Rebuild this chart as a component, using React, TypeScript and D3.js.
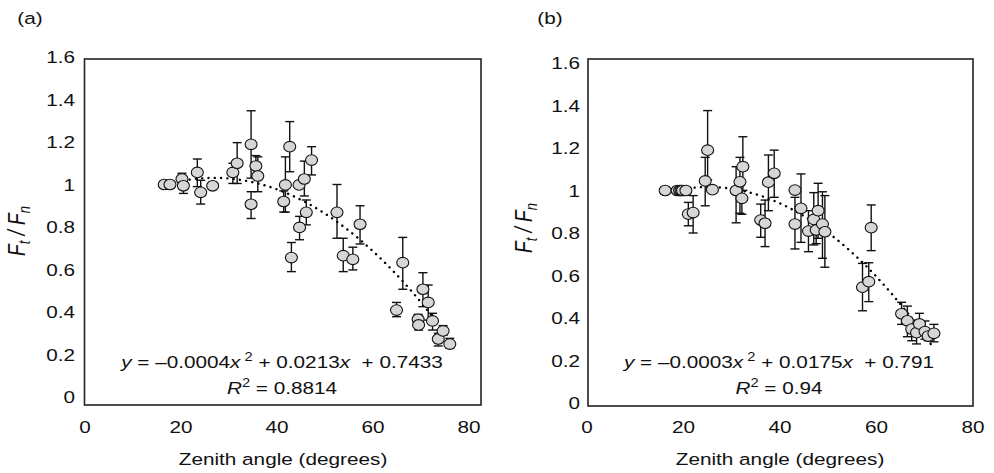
import React, { useEffect } from 'react';
import * as d3 from 'd3';

// ---------- data ----------
const xTicks = [0, 20, 40, 60, 80];
const yTicks = [0, 0.2, 0.4, 0.6, 0.8, 1, 1.2, 1.4, 1.6];
const yTickLabels = ['0', '0.2', '0.4', '0.6', '0.8', '1', '1.2', '1.4', '1.6'];

// panel (a)
const aAngle = [16.5, 17.7, 20.2, 20.5, 23.4, 24.1, 26.6, 30.8, 31.7, 34.6, 34.6, 35.6, 36.0, 41.4, 41.75, 42.65, 43.0, 44.6, 44.7, 45.7, 46.1, 47.2, 52.5, 53.8, 55.8, 57.3, 64.9, 66.2, 69.4, 69.5, 70.4, 71.5, 72.4, 73.6, 74.6, 76.0];
const aRatio = [1.0, 1.0, 1.026, 0.994, 1.057, 0.963, 0.994, 1.057, 1.10, 1.189, 0.907, 1.087, 1.04, 0.92, 0.998, 1.178, 0.656, 0.998, 0.798, 1.026, 0.869, 1.115, 0.869, 0.665, 0.648, 0.813, 0.409, 0.632, 0.366, 0.339, 0.507, 0.445, 0.358, 0.273, 0.311, 0.249];
const aLow = [null, null, 1.0, 0.958, 0.99, 0.908, null, 1.005, 1.005, 1.03, 0.84, 1.04, 0.966, 0.87, 0.87, 1.06, 0.59, null, 0.74, 0.946, 0.81, 1.045, 0.747, 0.59, 0.598, 0.72, 0.378, 0.507, 0.34, 0.315, 0.425, 0.362, 0.315, 0.24, 0.29, 0.23];
const aHigh = [null, null, 1.053, 1.03, 1.12, 1.02, null, 1.1, 1.197, 1.347, 0.966, 1.136, 1.13, 0.97, 1.13, 1.296, 0.727, null, 0.85, 1.11, 0.927, 1.178, 1.0, 0.747, 0.705, 0.9, 0.445, 0.751, 0.389, 0.36, 0.585, 0.527, 0.394, 0.3, 0.336, 0.276];
const aTrend = [-0.0003155, 0.01699, 0.8023];
const aTrendRange = [20.5, 73.2];
const aEquation = ['–0.0004', '0.0213', '0.7433'];
const aR2 = '0.8814';

// panel (b)
const bAngle = [16.2, 18.7, 19.2, 19.5, 19.8, 20.5, 21.0, 22.0, 24.5, 25.0, 26.0, 30.9, 31.7, 32.1, 32.3, 36.0, 36.9, 37.6, 38.8, 43.1, 43.1, 44.35, 45.9, 47.0, 47.5, 47.9, 48.8, 49.3, 57.1, 58.4, 58.9, 65.2, 66.4, 67.3, 68.3, 68.9, 70.05, 70.7, 71.9];
const bRatio = [1.0, 1.0, 1.0, 1.0, 1.0, 1.0, 0.889, 0.896, 1.045, 1.19, 1.004, 1.0, 1.041, 0.963, 1.112, 0.861, 0.846, 1.039, 1.081, 1.002, 0.842, 0.916, 0.809, 0.864, 0.814, 0.905, 0.842, 0.806, 0.545, 0.571, 0.825, 0.42, 0.387, 0.348, 0.331, 0.372, 0.336, 0.315, 0.328];
const bLow = [null, null, null, null, null, null, 0.834, 0.80, 0.928, 1.05, null, 0.848, 0.893, 0.888, 1.0, 0.78, 0.736, 0.905, 0.968, null, 0.725, 0.756, 0.712, 0.744, 0.75, 0.775, 0.681, 0.639, 0.434, 0.477, 0.717, 0.37, 0.312, 0.293, 0.278, 0.33, 0.3, 0.293, 0.288];
const bHigh = [null, null, null, null, null, null, 0.944, 0.976, 1.156, 1.376, null, 1.112, 1.156, 1.0, 1.253, 0.936, 0.955, 1.167, 1.19, null, 0.968, 1.078, 0.905, 0.99, 0.86, 1.034, 0.994, 0.976, 0.657, 0.66, 0.932, 0.474, 0.456, 0.39, 0.36, 0.422, 0.386, 0.34, 0.37];
const bTrend = [-0.000347, 0.01742, 0.7978];
const bTrendRange = [21.0, 71.6];
const bEquation = ['–0.0003', '0.0175', '0.791'];
const bR2 = '0.94';

// ---------- layout ----------
const FONT = "'Liberation Sans', Arial, Helvetica, sans-serif";
const SX = 1.22;
const FS = 17;

const layoutA = {
  label: '(a)', labelX: 30, labelY: 24,
  x0: 85, x80: 469, y0: 397, y16: 57,
  box: { l: 84.5, r: 481, t: 59, b: 405 },
  yLabelRight: 75, tickBase: 433,
  titleX: 283, titleBase: 465,
  yTitleX: 25, yTitleY: 231,
  eqX: 282, eqBase: 368, r2Base: 394,
};
const layoutB = {
  label: '(b)', labelX: 550, labelY: 24,
  x0: 587, x80: 973, y0: 403, y16: 63,
  box: { l: 588, r: 973, t: 59, b: 406 },
  yLabelRight: 580, tickBase: 433,
  titleX: 780, titleBase: 465,
  yTitleX: 532, yTitleY: 228,
  eqX: 779, eqBase: 368, r2Base: 394,
};

function SText({ x, y, anchor = 'middle', children, size = FS, style = {} }: any) {
  return (
    <text
      transform={`translate(${x},${y}) scale(${SX},1)`}
      textAnchor={anchor}
      fontSize={size}
      fontFamily={FONT}
      fill="#111"
      style={{ whiteSpace: 'pre', ...style }}
    >
      {children}
    </text>
  );
}

function Panel({ L, angle, ratio, low, high, trend, trendRange, eq, r2 }: any) {
  const x = d3.scaleLinear().domain([0, 80]).range([L.x0, L.x80]);
  const y = d3.scaleLinear().domain([0, 1.6]).range([L.y0, L.y16]);
  const f = (v: number) => trend[0] * v * v + trend[1] * v + trend[2];
  const xs = d3.range(trendRange[0], trendRange[1] + 0.001, 0.2);
  const line = d3.line<number>().x((d) => x(d)).y((d) => y(f(d)));
  const cap = 4.5;

  return (
    <g>
      <SText x={L.labelX} y={L.labelY}>{L.label}</SText>
      {yTicks.map((t, i) => (
        <SText key={'y' + i} x={L.yLabelRight} y={y(t) + 6} anchor="end">{yTickLabels[i]}</SText>
      ))}
      {xTicks.map((t) => (
        <SText key={'x' + t} x={x(t)} y={L.tickBase}>{String(t)}</SText>
      ))}
      <SText x={L.titleX} y={L.titleBase}>Zenith angle (degrees)</SText>
      <text
        transform={`translate(${L.yTitleX},${L.yTitleY}) rotate(-90) scale(1,${SX})`}
        textAnchor="middle"
        fontSize={19}
        fontFamily={FONT}
        fontStyle="italic"
        fill="#111"
        style={{ whiteSpace: 'pre' }}
      >
        F<tspan dy={4} fontSize={13}>t</tspan><tspan dy={-4}> / F</tspan><tspan dy={4} fontSize={13}>n</tspan>
      </text>
      <rect x={L.box.l} y={L.box.t} width={L.box.r - L.box.l} height={L.box.b - L.box.t} fill="none" stroke="#222" strokeWidth={1.6} />
      <path d={line(xs) || ''} fill="none" stroke="#000" strokeWidth={2.4} strokeDasharray="0.1 6.2" strokeLinecap="round" />
      {angle.map((a: number, i: number) => {
        if (low[i] == null || high[i] == null) return null;
        const cx = x(a);
        return (
          <g key={'e' + i} stroke="#111" strokeWidth={1.4}>
            <line x1={cx} x2={cx} y1={y(low[i])} y2={y(high[i])} />
            <line x1={cx - cap} x2={cx + cap} y1={y(low[i])} y2={y(low[i])} />
            <line x1={cx - cap} x2={cx + cap} y1={y(high[i])} y2={y(high[i])} />
          </g>
        );
      })}
      {angle.map((a: number, i: number) => (
        <ellipse key={'p' + i} cx={x(a)} cy={y(ratio[i])} rx={6} ry={5.3} fill="#d6d6d6" stroke="#111" strokeWidth={1.1} />
      ))}
      <SText x={L.eqX} y={L.eqBase}>
        <tspan fontStyle="italic">y</tspan>
        {` = ${eq[0]}`}
        <tspan fontStyle="italic">x</tspan>
        <tspan dy={-7} fontSize={12}>{' 2'}</tspan>
        <tspan dy={7}>{` + ${eq[1]}`}</tspan>
        <tspan fontStyle="italic">x</tspan>
        <tspan>{`  + ${eq[2]}`}</tspan>
      </SText>
      <SText x={L.eqX} y={L.r2Base}>
        <tspan fontStyle="italic">R</tspan>
        <tspan dy={-7} fontSize={12}>2</tspan>
        <tspan dy={7}>{` = ${r2}`}</tspan>
      </SText>
    </g>
  );
}

export default function App() {
  useEffect(() => {
    document.body.style.margin = '0';
  }, []);
  return (
    <svg width={994} height={473} style={{ position: 'absolute', left: 0, top: 0, background: '#fff' }}>
      <rect x={0} y={0} width={994} height={473} fill="#fff" />
      <Panel L={layoutA} angle={aAngle} ratio={aRatio} low={aLow} high={aHigh} trend={aTrend} trendRange={aTrendRange} eq={aEquation} r2={aR2} />
      <Panel L={layoutB} angle={bAngle} ratio={bRatio} low={bLow} high={bHigh} trend={bTrend} trendRange={bTrendRange} eq={bEquation} r2={bR2} />
    </svg>
  );
}
